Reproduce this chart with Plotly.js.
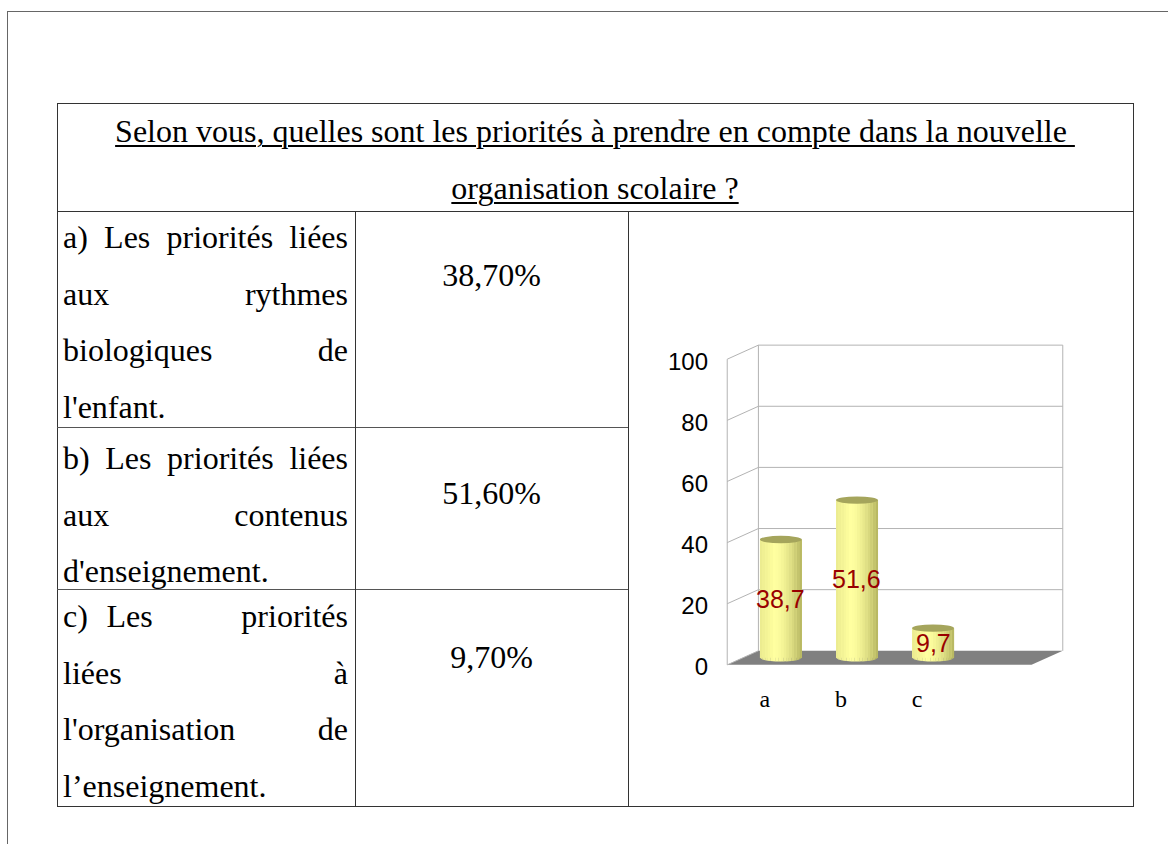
<!DOCTYPE html>
<html><head><meta charset="utf-8">
<script src="https://cdn.plot.ly/plotly-3.0.1.min.js"></script>
<style>
html,body{margin:0;padding:0;background:#fff;}
#wrap{position:relative;width:1168px;height:844px;overflow:hidden;background:#fff;}
#chart{position:absolute;left:0;top:0;width:1168px;height:844px;}
#overlay{position:absolute;left:0;top:0;width:1168px;height:844px;pointer-events:none;}
.ln{position:absolute;background:#333;}
.t{position:absolute;font-family:"Liberation Serif","Times New Roman",serif;font-size:32px;line-height:32px;color:#000;white-space:pre;}
.j{text-align:justify;text-align-last:justify;white-space:normal;}
.u{text-decoration:underline;text-underline-offset:3px;text-decoration-thickness:1.5px;}
.ib{display:inline-block;white-space:pre;}
</style></head><body>
<div id="wrap"><div id="chart"></div><div id="overlay"></div></div>
<script>
// ---------------- data ----------------
const categories = ['a', 'b', 'c'];
const values = [38.7, 51.6, 9.7];
const percentLabels = ['38,70%', '51,60%', '9,70%'];
const yTicks = [0, 20, 40, 60, 80, 100];
const titleLines = ['Selon vous, quelles sont les priorités à prendre en compte dans la nouvelle\u00a0', 'organisation scolaire ?'];
// each line is a list of "words" to be spread across the cell width (last line of a row is left-aligned)
const rowTexts = [
  [['a)', 'Les', 'priorités', 'liées'], ['aux', 'rythmes'], ['biologiques', 'de'], ["l'enfant."]],
  [['b)', 'Les', 'priorités', 'liées'], ['aux', 'contenus'], ["d'enseignement."]],
  [['c)\u2002\u200aLes', 'priorités'], ['liées', 'à'], ["l'organisation", 'de'], ['l\u2019enseignement.']]
];

// ---------------- table overlay ----------------
const ov = document.getElementById('overlay');
function line(x, y, w, h, color) {
  const d = document.createElement('div');
  d.className = 'ln';
  d.style.left = x + 'px'; d.style.top = y + 'px';
  d.style.width = w + 'px'; d.style.height = h + 'px';
  if (color) d.style.background = color;
  ov.appendChild(d);
}
const ASC = 26.8; // baseline offset for 32px Liberation Serif with 32px line-height
function text(str, left, baseline, width, cls, align) {
  const d = document.createElement('div');
  d.className = 't ' + (cls || '');
  d.textContent = str;
  d.style.left = left + 'px';
  d.style.top = (baseline - ASC) + 'px';
  if (width) d.style.width = width + 'px';
  if (align) d.style.textAlign = align;
  ov.appendChild(d);
  return d;
}
function wordsLine(words, left, baseline, width, justify) {
  const d = text('', left, baseline, width, justify ? 'j' : '', justify ? null : 'left');
  words.forEach((w, k) => {
    const s = document.createElement('span');
    s.className = 'ib';
    s.textContent = w;
    d.appendChild(s);
    if (k < words.length - 1) d.appendChild(document.createTextNode(' '));
  });
}
// outer frame
line(7, 11, 1161, 1, '#666');
line(7, 11, 1, 833, '#666');
// table frame
const TL = 57, TR = 1133, TT = 103, TB = 806, C1 = 355, C2 = 628, R0 = 211, R1 = 427, R2 = 589;
line(TL, TT, TR - TL + 1, 1);
line(TL, TB, TR - TL + 1, 1);
line(TL, TT, 1, TB - TT + 1);
line(TR, TT, 1, TB - TT + 1);
line(TL, R0, TR - TL + 1, 1);
line(TL, R1, C2 - TL, 1, '#555');
line(TL, R2, C2 - TL, 1, '#555');
line(C1, R0, 1, TB - R0);
line(C2, R0, 1, TB - R0);
// title
text(titleLines[0], TL, 142, TR - TL, 'u', 'center');
text(titleLines[1], TL, 199, TR - TL, 'u', 'center');
// rows
const rowBase = [248, 469, 627];
const pctBase = [286, 504, 668];
const LH = 56.6;
rowTexts.forEach((lines, r) => {
  lines.forEach((ws, k) => {
    const last = k === lines.length - 1;
    wordsLine(ws, 63, rowBase[r] + k * LH, 285, !last);
  });
  text(percentLabels[r], C1, pctBase[r], C2 - C1, '', 'center');
});

// ---------------- chart ----------------
const DX = 0.205, DY = 2.3;      // half depth of the 3D box
const BW = 0.55, HW = BW / 2, EH = 1.2;
const X0 = -0.5, X1 = 3.5, YMAX = 100;
const wallColor = '#b3b3b3';
const shapes = [];
// floor
shapes.push({type: 'path', layer: 'below', xref: 'x', yref: 'y',
  path: `M${X0 - DX},${-DY} L${X1 - DX},${-DY} L${X1 + DX},${DY} L${X0 + DX},${DY} Z`,
  fillcolor: '#808080', line: {width: 0}});
// back wall gridlines and left wall slants
yTicks.forEach(k => {
  if (k > 0) shapes.push({type: 'line', layer: 'below', xref: 'x', yref: 'y',
    x0: X0 + DX, x1: X1 + DX, y0: k + DY, y1: k + DY, line: {color: wallColor, width: 1}});
  shapes.push({type: 'line', layer: 'below', xref: 'x', yref: 'y',
    x0: X0 - DX, x1: X0 + DX, y0: k - DY, y1: k + DY, line: {color: wallColor, width: 1}});
});
[X0 + DX, X1 + DX].forEach(xx => shapes.push({type: 'line', layer: 'below', xref: 'x', yref: 'y',
  x0: xx, x1: xx, y0: DY, y1: YMAX + DY, line: {color: wallColor, width: 1}}));
shapes.push({type: 'line', layer: 'below', xref: 'x', yref: 'y',
  x0: X0 - DX, x1: X0 - DX, y0: -DY, y1: YMAX - DY, line: {color: wallColor, width: 1}});

// cylinder shading
function mix(k) {
  const a = [255, 255, 160], b = [160, 160, 78];
  const c = a.map((v, i) => Math.round(v + (b[i] - v) * k));
  return `rgb(${c[0]},${c[1]},${c[2]})`;
}
function shade(t) { return t < 0.35 ? 0.22 * (1 - t / 0.35) : 0.8 * Math.pow((t - 0.35) / 0.65, 1.6); }
const NS = 16;
values.forEach((v, i) => {
  const yb = x => -EH * Math.sqrt(Math.max(0, 1 - Math.pow((x - i) / HW, 2)));
  for (let s = 0; s < NS; s++) {
    const xa = i - HW + BW * s / NS, xb = i - HW + BW * (s + 1) / NS + 0.002;
    const t = (s + 0.5) / NS;
    shapes.push({type: 'path', layer: 'above', xref: 'x', yref: 'y',
      path: `M${xa},${yb(xa)} L${xb},${yb(Math.min(xb, i + HW))} L${xb},${v} L${xa},${v} Z`,
      fillcolor: mix(shade(t)), line: {width: 0}});
  }
  shapes.push({type: 'circle', layer: 'above', xref: 'x', yref: 'y',
    x0: i - HW, x1: i + HW, y0: v - EH, y1: v + EH, fillcolor: '#a5a55c', line: {width: 0}});
});

const annotations = values.map((v, i) => ({
  x: i, y: v / 2, xref: 'x', yref: 'y', showarrow: false,
  text: v.toFixed(1).replace('.', ','),
  font: {family: 'Liberation Sans, Arial, sans-serif', size: 25, color: '#990000'}
}));

const traces = [{
  type: 'bar', x: categories.map((c, i) => i), y: values, width: BW,
  marker: {color: '#ffffa0', line: {width: 0}}, hoverinfo: 'skip'
}];

const layout = {
  width: 1168, height: 844,
  margin: {l: 720, r: 98, t: 343, b: 177, pad: 0},
  paper_bgcolor: '#fff', plot_bgcolor: 'rgba(0,0,0,0)',
  showlegend: false,
  xaxis: {range: [-0.8, 3.8], tickvals: categories.map((c, i) => i), ticktext: categories,
    showgrid: false, zeroline: false, showline: false, ticks: '',
    tickfont: {family: 'Liberation Serif, Times New Roman, serif', size: 24, color: '#000'},
    ticklabelshift: -16, ticklabelstandoff: 15},
  yaxis: {range: [-3, 103], tickvals: yTicks, showgrid: false, zeroline: false, showline: false, ticks: '',
    tickfont: {family: 'Liberation Sans, Arial, sans-serif', size: 24, color: '#000'},
    ticklabelshift: 9, ticklabelstandoff: 11},
  shapes: shapes,
  annotations: annotations
};
Plotly.newPlot('chart', traces, layout, {staticPlot: true, displayModeBar: false});
</script>
</body></html>
